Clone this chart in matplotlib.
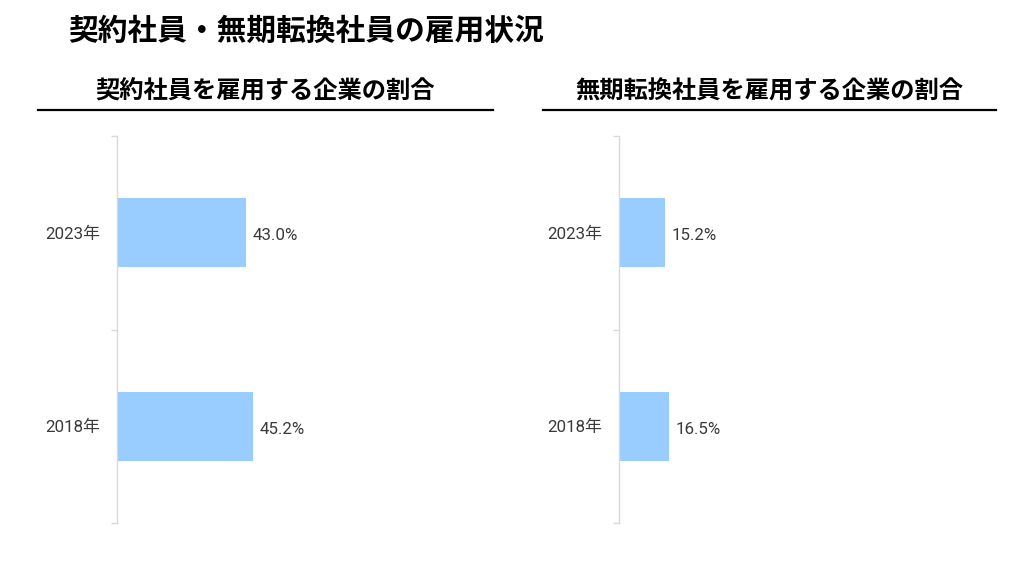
import matplotlib
matplotlib.use("Agg")
import matplotlib.pyplot as plt
from matplotlib.lines import Line2D

plt.rcParams['font.family'] = ['Roboto', 'Noto Sans CJK JP', 'DejaVu Sans']

main_title = "契約社員・無期転換社員の雇用状況"
panel_titles = ["契約社員を雇用する企業の割合", "無期転換社員を雇用する企業の割合"]
years = ["2018年", "2023年"]
contract_pct = [45.2, 43.0]
muki_pct = [16.5, 15.2]

bar_color = "#99CCFF"
text_color = "#3a3a3a"

fig = plt.figure(figsize=(10.24, 5.76), dpi=100)
fig.patch.set_facecolor("white")

fig.text(68/1024, 1-31/576, main_title, fontsize=21.4, fontweight="bold",
         family=['Noto Sans CJK JP'], ha="left", va="center", color="black")

panels = [(117, contract_pct, panel_titles[0], 38, 493),
          (619, muki_pct, panel_titles[1], 543, 996)]

for left_px, vals, ptitle, lx0, lx1 in panels:
    ax = fig.add_axes([left_px/1024, 1-523/576, 300/1024, 387/576])
    ypos = list(range(len(years)))
    ax.barh(ypos, vals, height=0.355, color=bar_color)
    ax.set_xlim(0, 100)
    ax.set_ylim(-0.5, len(years)-0.5)
    ax.set_yticks(ypos)
    ax.set_yticklabels(years, fontsize=12.2, color=text_color)
    ax.set_yticks([i-0.5 for i in range(len(years)+1)], minor=True)
    ax.tick_params(axis="y", which="major", length=0, pad=12)
    ax.tick_params(axis="y", which="minor", length=4, color="#d9d9d9", width=1)
    ax.set_xticks([])
    for s in ["top", "right", "bottom"]:
        ax.spines[s].set_visible(False)
    ax.spines["left"].set_color("#d9d9d9")
    ax.spines["left"].set_linewidth(1)
    for y, v in zip(ypos, vals):
        ax.annotate(f"{v:.1f}%", xy=(v, y), xytext=(5, -2), textcoords="offset points",
                    ha="left", va="center", fontsize=12.2, color=text_color)
    cx = (lx0 + lx1) / 2 / 1024
    fig.text(cx, 1-92/576, ptitle, fontsize=17.5, fontweight="bold",
             family=['Noto Sans CJK JP'], ha="center", va="center", color="black")
    fig.add_artist(Line2D([lx0/1024, lx1/1024], [1-110/576, 1-110/576],
                          color="black", linewidth=1.6, transform=fig.transFigure))

fig.savefig("out.png", dpi=100, facecolor="white")
